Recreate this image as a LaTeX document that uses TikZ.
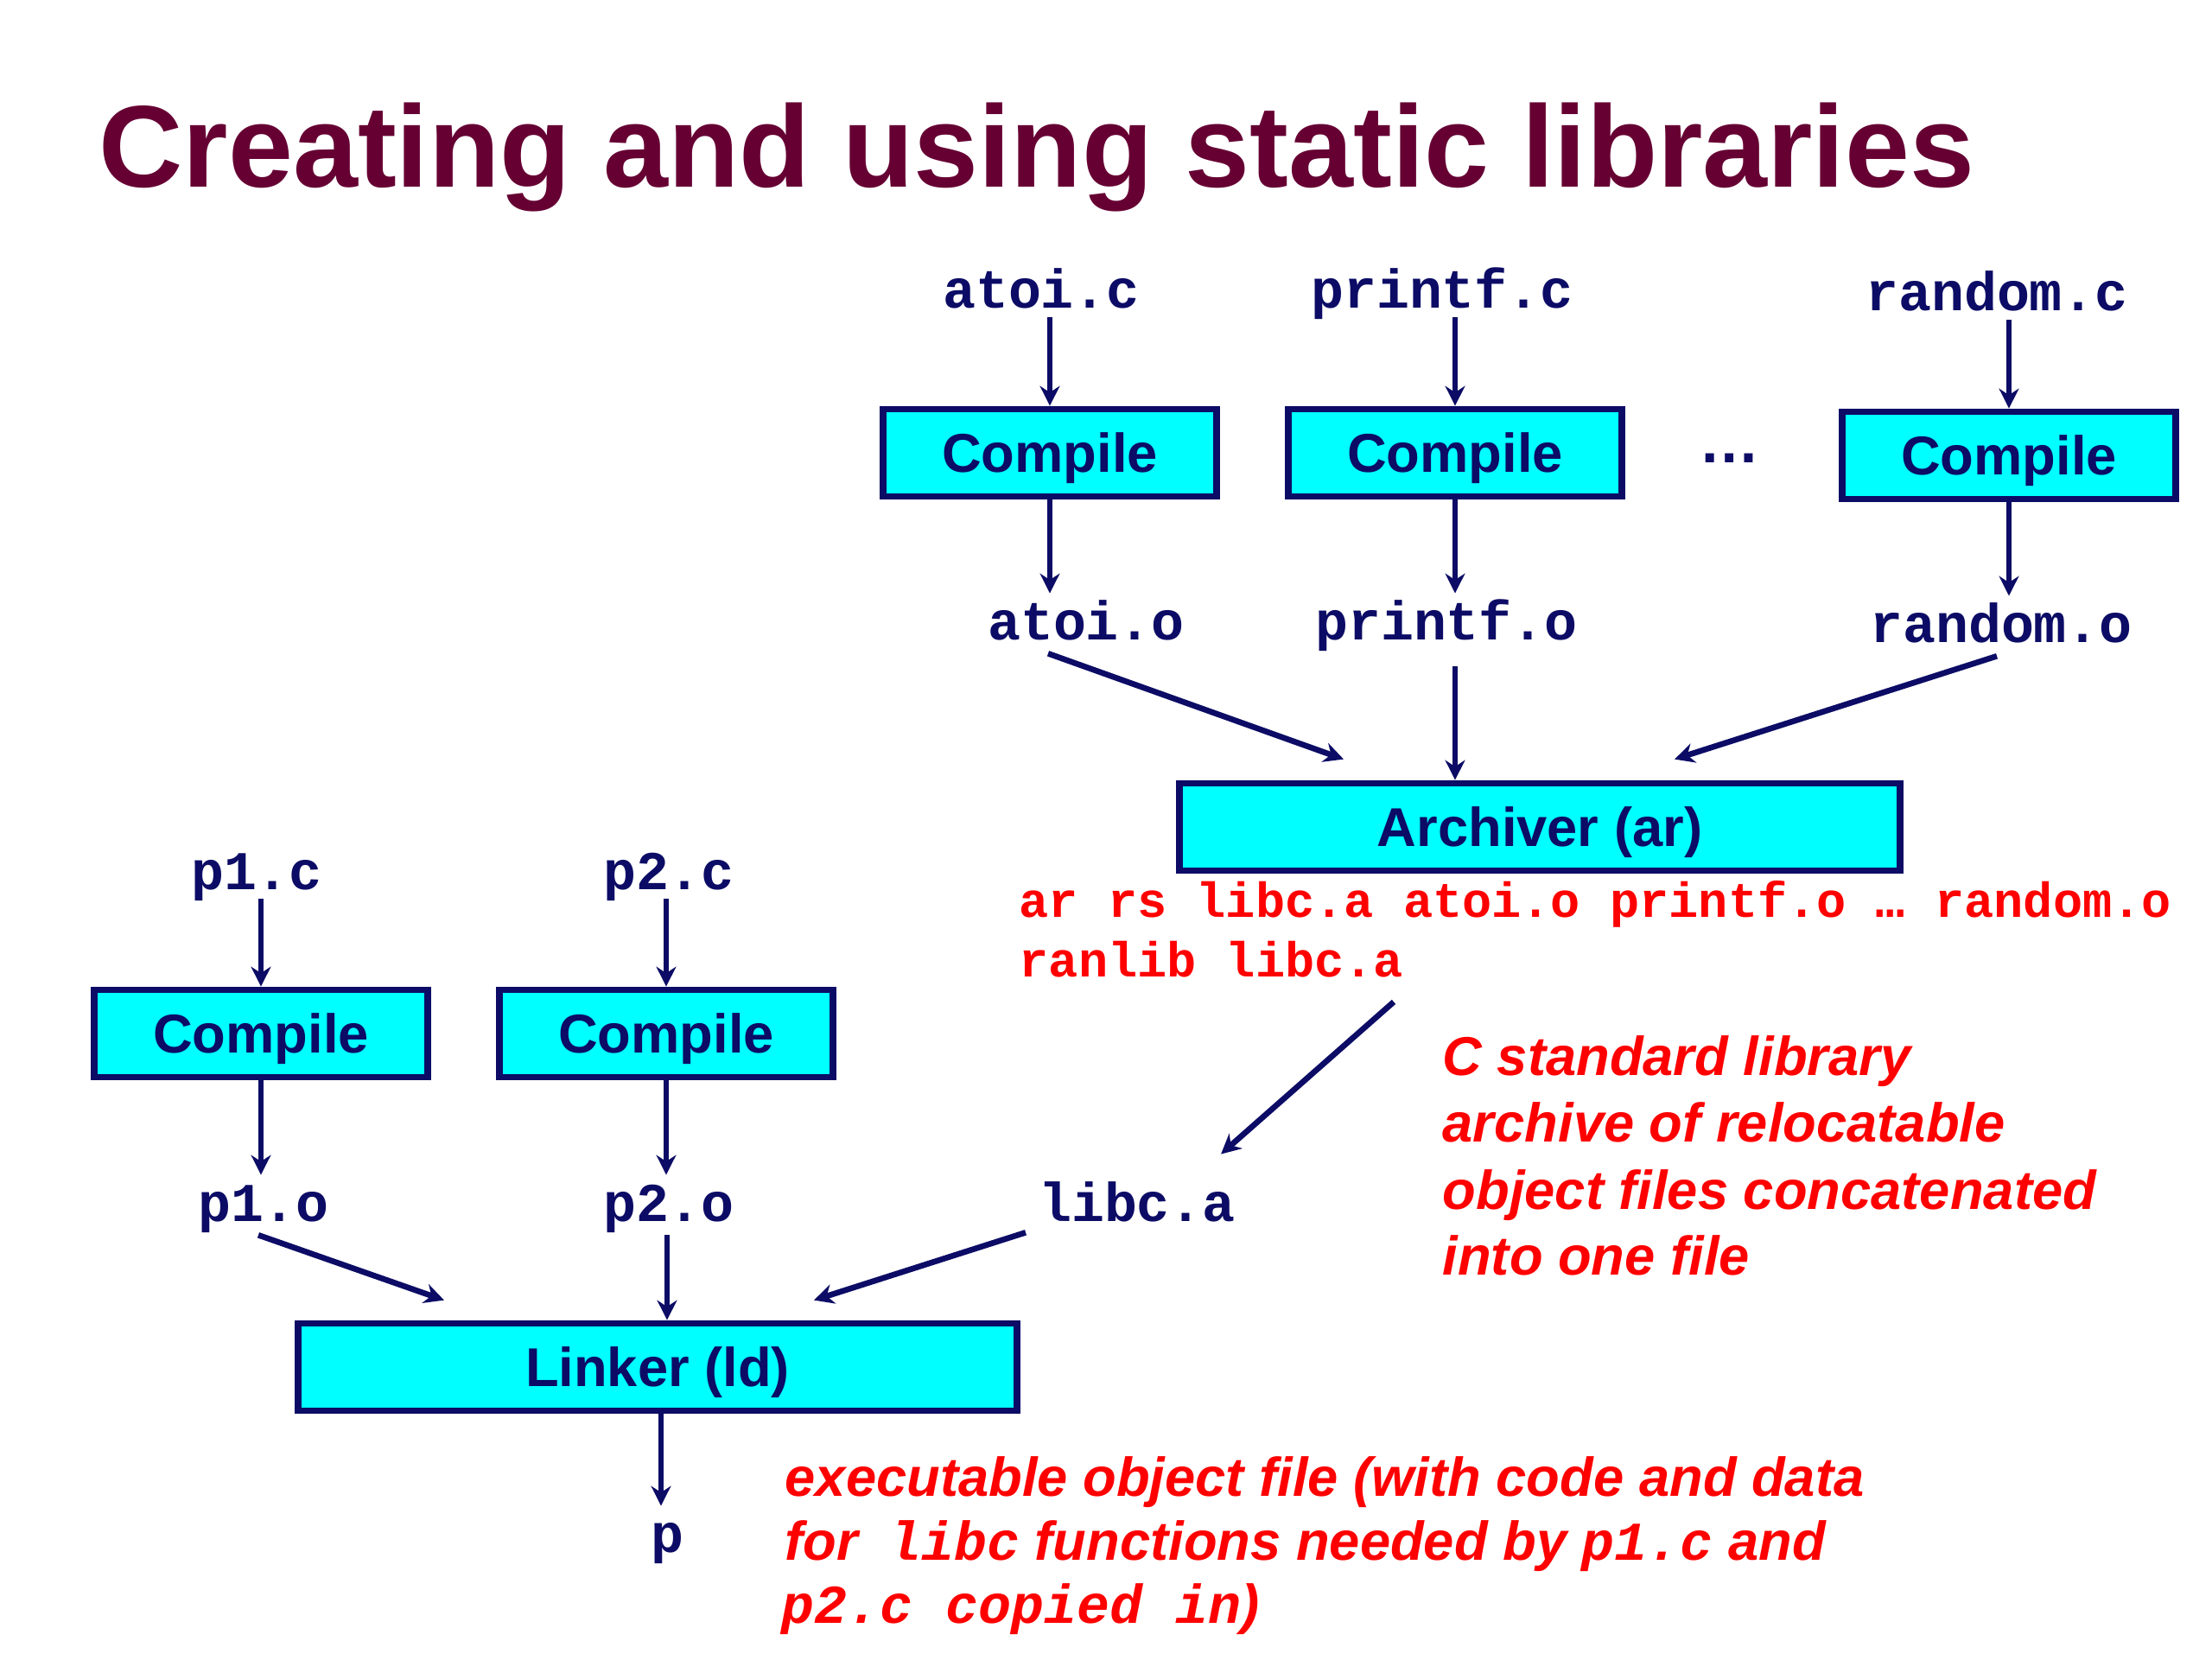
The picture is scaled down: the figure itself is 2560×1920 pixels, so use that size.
\documentclass[tikz,border=0pt]{standalone}
\usepackage{fontspec}
\setmainfont{Liberation Sans}
\newfontfamily\monof{Liberation Mono}
\usetikzlibrary{arrows.meta,calc}
\definecolor{navy}{RGB}{12,12,102}
\definecolor{boxcyan}{RGB}{0,255,255}
\definecolor{titlecol}{RGB}{102,0,51}
\definecolor{redtxt}{RGB}{255,0,0}
\begin{document}
\begin{tikzpicture}[x=0.01cm,y=-0.01cm,
  procbox/.style={draw=navy, line width=2.2pt, fill=boxcyan, minimum width=3.86cm,
    minimum height=1.01cm, inner sep=0pt, text depth=0pt,
    font=\fontsize{18}{22}\selectfont\bfseries, text=navy},
  widebox/.style={procbox, minimum width=8.32cm},
  fname/.style={font=\monof\bfseries\fontsize{18}{22}\selectfont, text=navy, anchor=base,
    inner sep=3pt, text height=12pt, text depth=0pt},
  arr/.style={draw=navy, line width=1.7pt, -{Stealth[length=6.5pt,width=6.5pt]}},
  darr/.style={arr, line width=1.9pt},
  cmdtxt/.style={font=\monof\bfseries\fontsize{16.2}{20}\selectfont, text=redtxt, anchor=base west, inner sep=0pt},
  notetxt/.style={font=\bfseries\itshape\fontsize{18}{22}\selectfont, text=redtxt, anchor=base west, inner sep=0pt},
  titletxt/.style={font=\bfseries\fontsize{38.3}{44}\selectfont, text=titlecol, anchor=base west, inner sep=0pt}
]
\useasboundingbox (0,0) rectangle (2560,1920);

% title
\node[titletxt] (title) at (114,216) {Creating and using static libraries};

% top row
\node[fname] (atoic) at (1205,356) {atoi.c};
\node[fname] (printfc) at (1669,356) {printf.c};
\node[fname] (randomc) at (2311,359) {random.c};

\node[procbox] (c1) at (1215,524) {Compile};
\node[procbox] (c2) at (1684,524) {Compile};
\node[procbox] (c3) at (2325,527) {Compile};
\node[font=\fontsize{20}{24}\selectfont\bfseries, text=navy] (dots) at (2002,530) {…};

\node[fname] (atoio) at (1257,740) {atoi.o};
\node[fname] (printfo) at (1674,740) {printf.o};
\node[fname] (randomo) at (2316,743) {random.o};

\node[widebox, minimum width=8.33cm] (arch) at (1782,957) {Archiver (ar)};

\node[cmdtxt] (cmd1) at (1179,1061) {ar rs libc.a atoi.o printf.o … random.o};
\node[cmdtxt] (cmd2) at (1179,1130) {ranlib libc.a};

\node[notetxt] (n1) at (1669,1244) {C standard library};
\node[notetxt] (n2) at (1669,1321) {archive of relocatable};
\node[notetxt] (n3) at (1669,1399) {object files concatenated};
\node[notetxt] (n4) at (1669,1475) {into one file};

\node[fname] (libca) at (1316,1413) {libc.a};

% bottom left
\node[fname] (p1c) at (297,1029) {p1.c};
\node[fname] (p2c) at (774,1029) {p2.c};
\node[procbox] (c4) at (302,1196) {Compile};
\node[procbox] (c5) at (771,1196) {Compile};
\node[fname] (p1o) at (305,1413) {p1.o};
\node[fname] (p2o) at (774,1413) {p2.o};
\node[widebox] (linker) at (761,1582) {Linker (ld)};
\node[fname] (pexe) at (772,1796) {p};

\node[notetxt] (e1) at (908,1731) {executable object file (with code and data};
\node[notetxt] (e2) at (908,1805) {for~~{\monof libc} functions needed by {\monof p1.c} and};
\node[notetxt] (e3) at (904,1878) {{\monof p2.c copied in})};

% connectors top
\draw[arr] (atoic.south -| c1.north) -- (c1.north);
\draw[arr] (printfc.south -| c2.north) -- (c2.north);
\draw[arr] (randomc.south -| c3.north) -- (c3.north);
\draw[arr] (c1.south) -- (atoio.north -| c1.south);
\draw[arr] (c2.south) -- (printfo.north -| c2.south);
\draw[arr] (c3.south) -- (randomo.north -| c3.south);
\draw[darr] ($(atoio.south)+(-44,5)$) -- ($(arch.north)+(-227,-24)$);
\draw[darr] ($(printfo.south -| c2.south)+(0,20)$) -- (arch.north -| c2.south);
\draw[darr] ($(randomo.south)+(-5,5)$) -- ($(arch.north)+(156,-24)$);
\draw[darr] ($(arch.south)+(-169,148)$) -- ($(libca.north)+(97,-24)$);

% connectors bottom
\draw[arr] (p1c.south -| c4.north) -- (c4.north);
\draw[arr] (p2c.south -| c5.north) -- (c5.north);
\draw[arr] (c4.south) -- (p1o.north -| c4.south);
\draw[arr] (c5.south) -- (p2o.north -| c5.south);
\draw[darr] ($(p1o.south)+(-6,5)$) -- ($(linker.north)+(-247,-23)$);
\draw[darr] ($(p2o.south)+(-2,5)$) -- ($(linker.north -| p2o.south)+(-2,0)$);
\draw[darr] ($(libca.south)+(-129,2)$) -- ($(linker.north)+(181,-23)$);
\draw[arr] ($(linker.south)+(4,0)$) -- ($(pexe.north -| linker.south)+(4,0)$);
\end{tikzpicture}
\end{document}
